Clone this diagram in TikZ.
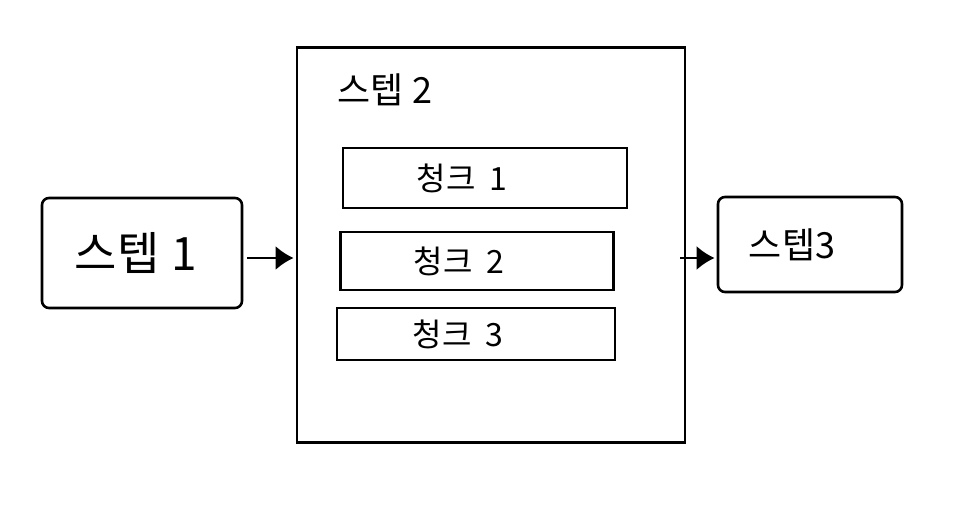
\documentclass[tikz,border=0pt]{standalone}
\usepackage{fontspec}
\setmainfont{Noto Sans CJK KR}
\usetikzlibrary{arrows.meta}
\tikzset{
  box/.style={draw=black, line width=2.6pt, rounded corners=7pt, inner sep=0pt},
  bigbox/.style={draw=black, line width=2.6pt, inner sep=0pt},
  chunkbox/.style={draw=black, line width=2.4pt, inner sep=0pt},
  conn/.style={line width=2.4pt, -{Latex[length=18pt,width=24pt]}},
  chunktext/.style={font=\fontsize{32}{36}\selectfont},
}
\begin{document}
\begin{tikzpicture}[x=1pt,y=-1pt]
\useasboundingbox (0,0) rectangle (962,508);
\node[box, minimum width=200pt, minimum height=110pt, font=\fontsize{46}{50}\selectfont] (s1) at (142,253) {스텝\hspace{12pt}1\hspace*{12pt}};
\node[bigbox, minimum width=388pt, minimum height=395pt] (s2) at (491,245) {};
\node[font=\fontsize{36}{40}\selectfont] (s2lab) at (385,90) {스텝 2};
\node[chunkbox, minimum width=284pt, minimum height=60pt, chunktext] (c1) at (485,178) {청크\hspace{14pt}1\hspace*{46pt}};
\node[chunkbox, minimum width=273pt, minimum height=58pt, chunktext] (c2) at (477,261) {청크\hspace{14pt}2\hspace*{36pt}};
\node[chunkbox, minimum width=278pt, minimum height=52pt, chunktext] (c3) at (476,334) {청크\hspace{14pt}3\hspace*{36pt}};
\node[box, minimum width=184pt, minimum height=95pt, font=\fontsize{36}{40}\selectfont] (s3) at (810,244.5) {스텝3\hspace*{36pt}};
\draw[conn, shorten <=4pt, shorten >=2pt] (s1.east |- 0,258) -- (s2.west |- 0,258);
\draw[conn, shorten >=2pt] (s2.east |- 0,258) ++(-6,0) -- (s3.west |- 0,258);
\end{tikzpicture}
\end{document}
